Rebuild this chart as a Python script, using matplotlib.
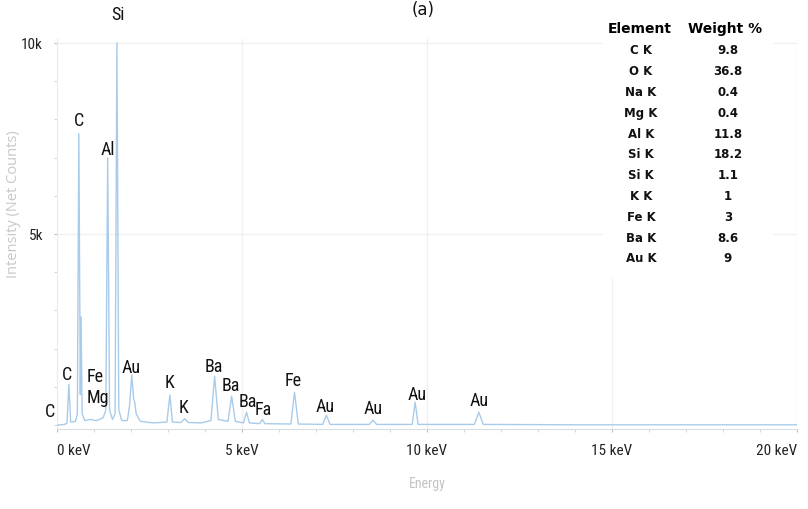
import matplotlib.pyplot as plt
from matplotlib import font_manager
from matplotlib.patches import Rectangle

# fuente estrecha si existe
available = {f.name for f in font_manager.fontManager.ttflist}
narrow = [f for f in ["Liberation Sans Narrow", "DejaVu Sans Condensed", "Roboto Condensed"] if f in available]
narrow_family = narrow + ["DejaVu Sans"]

# Espectro EDS (keV, cuentas)
energy = [0.00, 0.20, 0.27, 0.32, 0.37, 0.50, 0.55, 0.59, 0.63, 0.65, 0.68, 0.75,
          0.90, 1.05, 1.15, 1.25, 1.32, 1.37, 1.42, 1.50, 1.57, 1.62, 1.67, 1.75,
          1.90, 1.96, 2.02, 2.07, 2.10, 2.14, 2.25, 2.60, 2.97, 3.05, 3.12, 3.35,
          3.45, 3.55, 3.90, 4.16, 4.26, 4.36, 4.62, 4.72, 4.82, 5.04, 5.12, 5.20,
          5.48, 5.55, 5.62, 6.32, 6.42, 6.52, 7.18, 7.28, 7.38, 8.44, 8.54, 8.64,
          9.60, 9.68, 9.76, 11.28, 11.40, 11.52, 14.00, 20.00]
counts = [0, 20, 50, 1070, 80, 100, 300, 7620, 800, 2830, 300, 120,
          150, 120, 150, 200, 400, 6990, 400, 150, 300, 10000, 400, 120,
          120, 500, 1310, 700, 600, 300, 100, 60, 80, 790, 80, 70,
          170, 70, 60, 120, 1280, 150, 100, 760, 100, 60, 340, 60,
          40, 150, 40, 30, 860, 30, 20, 260, 20, 20, 130, 20,
          20, 600, 20, 20, 340, 20, 10, 10]

# Etiquetas de los picos
peak_names = ["Si", "C", "Al", "C", "C", "Fe", "Mg", "Au", "K", "K", "Ba", "Ba", "Ba",
              "Fa", "Fe", "Au", "Au", "Au", "Au"]
label_x = [1.64, 0.59, 1.37, 0.27, -0.19, 1.02, 1.11, 1.99, 3.05, 3.42, 4.23, 4.69, 5.15,
           5.58, 6.39, 7.25, 8.54, 9.73, 11.40]
label_y = [10760, 7980, 7230, 1340, 370, 1280, 730, 1520, 1130, 470, 1540, 1050, 630,
           420, 1180, 500, 450, 810, 650]

# Tabla de composición
elements = ["C K", "O K", "Na K", "Mg K", "Al K", "Si K", "Si K", "K K", "Fe K", "Ba K", "Au K"]
weights = ["9.8", "36.8", "0.4", "0.4", "11.8", "18.2", "1.1", "1", "3", "8.6", "9"]

fig = plt.figure(figsize=(8.08, 5.10), dpi=100)
ax = fig.add_axes([57 / 808, 80 / 510, 740 / 808, 390 / 510])

ax.plot(energy, counts, color="#a9cbea", linewidth=1.0, zorder=3)

ax.set_xlim(0, 20)
ax.set_ylim(-100, 10100)

ax.set_xticks([0, 5, 10, 15, 20])
ax.set_xticklabels(["0 keV", "5 keV", "10 keV", "15 keV", "20 keV"])
ax.set_xticks(range(0, 21), minor=True)
ax.set_yticks([5000, 10000])
ax.set_yticklabels(["5k", "10k"])
ax.set_yticks(range(0, 10001, 1000), minor=True)

for lab in ax.get_xticklabels() + ax.get_yticklabels():
    lab.set_family(narrow_family)
    lab.set_fontsize(11)
    lab.set_color("#222222")
ax.get_xticklabels()[-1].set_horizontalalignment("right")
ax.get_xticklabels()[0].set_horizontalalignment("left")

ax.tick_params(axis="both", which="major", length=2, color="#bbbbbb", pad=8)
ax.tick_params(axis="both", which="minor", length=2, color="#cccccc")
ax.grid(True, which="major", color="#f0f0f0", linewidth=1.0, zorder=0)

for side in ["top", "right"]:
    ax.spines[side].set_visible(False)
ax.spines["left"].set_color("#e4ecf4")
ax.spines["bottom"].set_color("#d8dde2")

ax.set_xlabel("Energy", color="#c4c4c4", fontsize=10, family=narrow_family, labelpad=14)
ax.set_ylabel("Intensity (Net Counts)", color="#c8c8c8", fontsize=10.5,
              family=["Open Sans", "DejaVu Sans"])
ax.yaxis.set_label_coords(-0.048, 0.58)

for name, x, y in zip(peak_names, label_x, label_y):
    ax.text(x, y, name, ha="center", va="center", fontsize=13, family=narrow_family,
            color="#111111", clip_on=False, zorder=4)

# Caja blanca de la tabla
fig.patches.append(Rectangle((603 / 808, 1 - 280 / 510), 170 / 808, 268 / 510,
                             transform=fig.transFigure, facecolor="white",
                             edgecolor="none", zorder=5))

fig.text(640 / 808, 1 - 29 / 510, "Element", ha="center", va="center",
         fontsize=10, fontweight="bold", zorder=6)
fig.text(725 / 808, 1 - 29 / 510, "Weight %", ha="center", va="center",
         fontsize=10, fontweight="bold", zorder=6)
for i, (el, w) in enumerate(zip(elements, weights)):
    yy = 1 - (51 + i * 20.8) / 510
    fig.text(641 / 808, yy, el, ha="center", va="center", fontsize=8.5,
             fontweight="bold", color="#111111", zorder=6)
    fig.text(728 / 808, yy, w, ha="center", va="center", fontsize=8.5,
             fontweight="bold", color="#111111", zorder=6)

fig.text(423 / 808, 0.999, "(a)", ha="center", va="top", fontsize=12, color="#111111")

fig.savefig("out.png", dpi=100)
